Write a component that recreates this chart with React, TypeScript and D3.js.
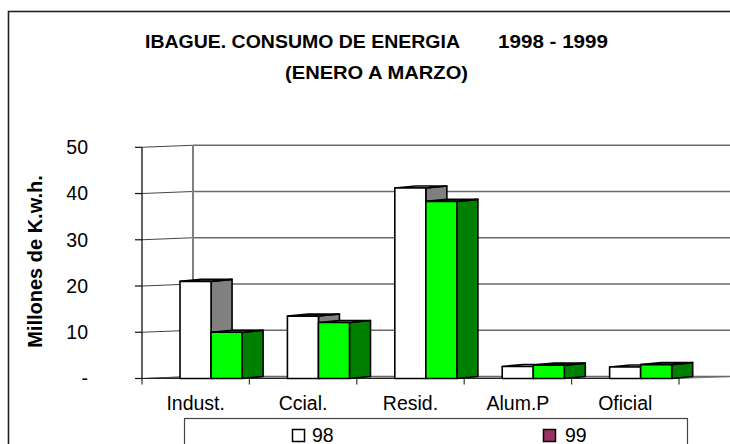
import React from "react";
import * as d3 from "d3";

const categories = ["Indust.", "Ccial.", "Resid.", "Alum.P", "Oficial"];
const values98 = [21.0, 13.5, 41.2, 2.6, 2.5];
const values99 = [10.0, 12.1, 38.3, 2.9, 3.0];
const yTicks = [0, 10, 20, 30, 40, 50];
const seriesNames = ["98", "99"];

const W = 730;
const H = 444;

export default function App() {
  const font = "'Liberation Sans', Arial, sans-serif";
  const x = d3.scaleBand<string>().domain(categories).range([142, 679]).paddingInner(0).paddingOuter(0);
  const y = d3.scaleLinear().domain([0, 50]).range([378.5, 147.3]);
  const bw = x.bandwidth();
  const barOffset = bw * 0.354;
  const barW = bw * 0.289;
  const bdx = 21;
  const bdy = -2;
  const wdx = 51;
  const wdy = -2;
  const y0 = y(0);
  const [xl, xr] = x.range();
  const fmt = (v: number) => (v === 0 ? "-" : d3.format("d")(v));

  const series = [
    { name: seriesNames[0], vals: values98, front: "#ffffff", side: "#808080", top: "#ffffff" },
    { name: seriesNames[1], vals: values99, front: "#00ff00", side: "#008000", top: "#00ff00" },
  ];

  const pts = (a: number[][]) => a.map((p) => p.join(",")).join(" ");

  return (
    <svg width={W} height={H} style={{ position: "absolute", left: 0, top: 0, background: "#fff" }} fontFamily={font}>
      <rect x={0} y={0} width={W} height={H} fill="#fff" />
      {/* chart frame */}
      <rect x={8.5} y={11.5} width={800} height={500} fill="none" stroke="#222" strokeWidth={1.6} />

      {/* title */}
      <text x={145} y={48} fontSize={18.5} fontWeight="bold" textLength={315} lengthAdjust="spacingAndGlyphs">
        IBAGUE. CONSUMO DE ENERGIA
      </text>
      <text x={498} y={48} fontSize={18.5} fontWeight="bold" textLength={110} lengthAdjust="spacingAndGlyphs">
        1998 - 1999
      </text>
      <text x={285} y={79} fontSize={18.5} fontWeight="bold" textLength={183} lengthAdjust="spacingAndGlyphs">
        (ENERO A MARZO)
      </text>

      {/* floor */}
      <polygon
        points={pts([[xl, y0], [xr, y0], [xr + wdx, y0 + wdy], [xl + wdx, y0 + wdy]])}
        fill="#a0a0a0"
        stroke="#808080"
        strokeWidth={1}
      />

      {/* side wall gridlines */}
      {yTicks.map((t) => (
        <line key={"sw" + t} x1={xl} y1={y(t)} x2={xl + wdx} y2={y(t) + wdy} stroke="#444" strokeWidth={1.1} />
      ))}
      {/* back wall gridlines */}
      {yTicks.map((t) => (
        <line key={"bw" + t} x1={xl + wdx} y1={y(t) + wdy} x2={xr + wdx} y2={y(t) + wdy} stroke="#6a6a6a" strokeWidth={1.4} />
      ))}
      {/* back wall left vertical */}
      <line x1={xl + wdx} y1={y(50) + wdy} x2={xl + wdx} y2={y0 + wdy} stroke="#808080" strokeWidth={2} />

      {/* front y axis */}
      <line x1={xl} y1={y(50)} x2={xl} y2={y0} stroke="#111" strokeWidth={1.3} />
      {yTicks.map((t) => (
        <g key={"yt" + t}>
          <line x1={xl - 7} y1={y(t)} x2={xl} y2={y(t)} stroke="#111" strokeWidth={1.2} />
          <text x={88} y={y(t)} dy="0.35em" textAnchor="end" fontSize={19.5} fill="#000">
            {fmt(t)}
          </text>
        </g>
      ))}

      {/* floor front edge and x ticks */}
      <line x1={xl} y1={y0} x2={xr} y2={y0} stroke="#222" strokeWidth={1.2} />
      {[...categories.map((c) => x(c) as number), xr].map((px, i) => (
        <line key={"xt" + i} x1={px} y1={y0} x2={px} y2={y0 + 6} stroke="#333" strokeWidth={1.2} />
      ))}

      {/* bars */}
      {categories.map((c, i) => (
        <g key={c}>
          {series.map((s, si) => {
            const x0 = (x(c) as number) + barOffset + si * barW;
            const yt = y(s.vals[i]);
            return (
              <g key={s.name} stroke="#000" strokeWidth={1.6} strokeLinejoin="round">
                <polygon
                  points={pts([[x0 + barW, yt], [x0 + barW + bdx, yt + bdy], [x0 + barW + bdx, y0 + bdy], [x0 + barW, y0]])}
                  fill={s.side}
                />
                <polygon
                  points={pts([[x0, yt], [x0 + bdx, yt + bdy], [x0 + barW + bdx, yt + bdy], [x0 + barW, yt]])}
                  fill={s.top}
                />
                <rect x={x0} y={yt} width={barW} height={y0 - yt} fill={s.front} />
              </g>
            );
          })}
        </g>
      ))}

      {/* category labels */}
      {categories.map((c) => (
        <text key={"cl" + c} x={(x(c) as number) + bw / 2} y={410} textAnchor="middle" fontSize={19.5} fill="#000">
          {c}
        </text>
      ))}

      {/* y axis title */}
      <text
        transform="translate(41.5,261.5) rotate(-90)"
        textAnchor="middle"
        fontSize={20}
        fontWeight="bold"
        fill="#000"
      >
        Millones de K.w.h.
      </text>

      {/* legend */}
      <rect x={184.5} y={418.5} width={503} height={60} fill="#fff" stroke="#444" strokeWidth={1.2} />
      <rect x={292.5} y={429.5} width={12} height={12} fill="#fff" stroke="#000" strokeWidth={1.5} />
      <text x={312} y={442} fontSize={19.5} fill="#000">{seriesNames[0]}</text>
      <rect x={543.5} y={429.5} width={12} height={12} fill="#993366" stroke="#000" strokeWidth={1.5} />
      <text x={565} y={442} fontSize={19.5} fill="#000">{seriesNames[1]}</text>
    </svg>
  );
}
